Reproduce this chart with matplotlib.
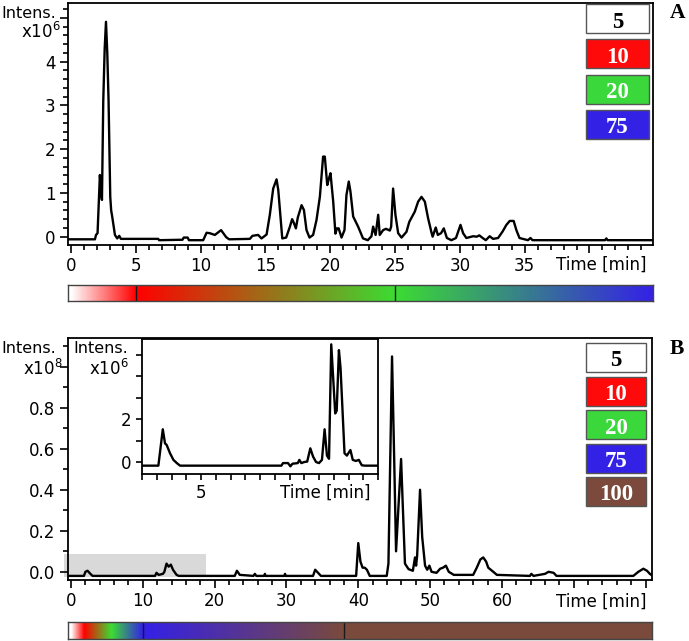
import numpy as np
import matplotlib
matplotlib.use('Agg')
import matplotlib.pyplot as plt
from matplotlib.ticker import MultipleLocator, FuncFormatter
from matplotlib.colors import to_rgb
from matplotlib.patches import Rectangle

# ---------------- data ----------------
timeA = [-0.23, 1.85, 1.93, 2.05, 2.15, 2.23, 2.31, 2.39, 2.49, 2.60, 2.70, 2.80, 2.90, 3.03, 3.1, 3.18, 3.39, 3.57,
         3.72, 3.85, 6.73, 6.8, 8.6, 8.7, 9.0, 9.1, 10.2, 10.46, 10.7, 11.1, 11.58, 11.97, 12.2, 13.8,
         14.0, 14.44, 14.7, 15.09, 15.34, 15.6, 15.86, 15.99, 16.12, 16.3, 16.6, 16.89, 17.06, 17.2,
         17.35, 17.5, 17.79, 17.97, 18.17, 18.4, 18.68, 18.94, 19.2, 19.45, 19.58, 19.77, 19.9, 20.02,
         20.23, 20.4, 20.52, 20.65, 20.87, 21.1, 21.25, 21.43, 21.56, 21.77, 22.15, 22.53, 22.9, 23.18,
         23.31, 23.5, 23.7, 23.82, 24.08, 24.3, 24.6, 24.7, 24.85, 25.03, 25.24, 25.5, 25.88, 26.1,
         26.52, 26.78, 27.04, 27.3, 27.55, 27.8, 27.9, 28.14, 28.3, 28.55, 28.76, 29.0, 29.35, 29.7,
         30.05, 30.25, 30.5, 31.02, 31.3, 31.5, 31.76, 32.0, 32.3, 32.56, 32.95, 33.3, 33.59, 33.85,
         34.15, 34.36, 34.6, 35.25, 35.45, 35.6, 41.2, 41.3, 41.4, 44.9]
intensA = [-0.06, -0.06, 0.04, 0.08, 0.8, 1.41, 1.0, 0.84, 3.1, 4.3, 4.91, 4.2, 3.1, 0.91, 0.6, 0.46, 0.04, -0.04,
           0.02, -0.05, -0.05, -0.08, -0.07, -0.02, -0.02, -0.08, -0.08, 0.09, 0.08, 0.04, 0.15, -0.01, -0.06, -0.05,
           0.02, 0.04, -0.04, 0.05, 0.5, 1.1, 1.31, 1.07, 0.61, -0.04, -0.02, 0.23, 0.4, 0.31,
           0.19, 0.44, 0.72, 0.61, 0.15, -0.02, 0.04, 0.38, 0.91, 1.83, 1.83, 1.18, 1.33, 1.45,
           0.8, 0.07, 0.19, 0.19, -0.02, 0.15, 0.95, 1.26, 1.03, 0.46, 0.23, -0.04, -0.08, 0.01,
           0.23, 0.04, 0.5, 0.04, 0.15, 0.18, 0.14, 0.23, 1.1, 0.5, 0.08, -0.02, 0.11, 0.34,
           0.57, 0.8, 0.91, 0.8, 0.42, 0.11, 0.0, 0.21, 0.04, 0.08, 0.19, -0.03, -0.08, -0.03,
           0.27, 0.08, -0.03, 0.01, 0.0, 0.03, -0.03, -0.08, 0.01, -0.05, -0.03, 0.12, 0.27, 0.36,
           0.36, 0.15, -0.03, -0.08, -0.03, -0.08, -0.08, -0.04, -0.08, -0.08]

timeB = [-0.4, 1.8, 2.0, 2.3, 2.7, 3.0, 11.7, 11.9, 12.2, 12.8, 13.0, 13.3, 13.6, 13.9, 14.2, 14.7, 15.0,
         22.8, 23.1, 23.5, 25.4, 25.6, 25.8, 26.9, 27.0, 27.1, 29.7, 29.8, 29.9, 33.7, 34.0, 34.4, 34.8,
         39.7, 40.0, 40.3, 40.6, 40.9, 41.2, 41.6, 43.96, 44.2, 44.7, 45.0, 45.26, 45.6, 45.96, 46.2,
         46.5, 47.0, 47.6, 47.9, 48.05, 48.2, 48.6, 48.9, 49.3, 49.6, 49.9, 50.2, 50.9, 51.4, 51.8,
         52.2, 52.6, 53.3, 56.0, 56.5, 57.0, 57.4, 57.8, 58.1, 58.8, 59.3, 63.9, 64.1, 64.4, 66.0,
         66.5, 67.2, 67.6, 78.3, 79.0, 79.7, 80.2, 80.6, 81.0]
intensB = [-0.02, -0.02, 0.0, 0.005, -0.01, -0.02, -0.02, -0.005, -0.015, -0.01, 0.0, 0.04, 0.025, 0.035, 0.01, -0.015, -0.02,
           -0.02, 0.005, -0.015, -0.02, -0.01, -0.02, -0.02, -0.01, -0.02, -0.02, -0.01, -0.02, -0.02, 0.01, -0.005, -0.02,
           -0.02, 0.14, 0.05, 0.02, 0.02, 0.01, -0.02, -0.02, 0.04, 1.05, 0.55, 0.10, 0.32, 0.55, 0.32,
           0.04, 0.013, 0.005, 0.07, 0.03, 0.08, 0.40, 0.17, 0.03, 0.01, 0.03, 0.0, -0.005, 0.015, 0.02,
           0.03, 0.0, -0.015, -0.015, 0.02, 0.06, 0.07, 0.05, 0.02, 0.0, -0.015, -0.02, -0.01, -0.02, -0.01,
           0.0, -0.005, -0.02, -0.02, 0.0, 0.015, 0.005, -0.01, -0.02]

timeInset = [1.0, 2.11, 2.41, 2.56, 2.67, 2.9, 3.13, 3.36, 3.58, 10.45, 10.56, 10.9, 11.06, 11.2, 11.56,
             11.67, 11.8, 12.0, 12.2, 12.41, 12.6, 12.8, 13.0, 13.2, 13.38, 13.54, 13.68, 13.83, 14.1,
             14.2, 14.35, 14.46, 14.73, 14.89, 15.13, 15.29, 15.5, 15.7, 15.9, 16.1, 17.0]
intensInset = [-0.17, -0.17, 1.53, 0.87, 0.80, 0.41, 0.1, -0.05, -0.17, -0.17, -0.05, -0.05, -0.2, -0.08, -0.05,
               0.1, -0.05, 0.0, 0.02, 0.64, 0.25, 0.0, -0.05, 0.1, 1.53, 0.3, 0.15, 5.5, 2.27,
               2.4, 5.23, 4.4, 0.41, 0.3, 0.56, 0.1, 0.05, 0.1, -0.15, -0.17, -0.17]

legendA_labels = ['5', '10', '20', '75']
legendA_colors = ['#FFFFFF', '#FF0A0A', '#3AD83A', '#3322E6']
legendB_labels = ['5', '10', '20', '75', '100']
legendB_colors = ['#FFFFFF', '#FF0A0A', '#3AD83A', '#3322E6', '#7B4A3C']

gradA_times = [0, 5, 25, 45]
gradA_colors = ['#FFFFFF', '#FF0000', '#3CDC32', '#3420E8']
gradA_marks = [5, 25]
gradB_times = [0, 1.8, 5.6, 10, 38, 81]
gradB_colors = ['#FFFFFF', '#FF0000', '#3CDC32', '#3420E8', '#7A4A3C', '#7A4A3C']
gradB_marks = [10, 38]

# ---------------- figure ----------------
W, H = 689, 641
plt.rcParams['font.family'] = ['DejaVu Sans']
plt.rcParams['mathtext.fontset'] = 'dejavusans'
fig = plt.figure(figsize=(W / 100, H / 100), dpi=100)
FS = 12
LW = 1.7


def px_rect(l, t, r, b):
    return [l / W, 1 - b / H, (r - l) / W, (b - t) / H]


def ftext(x, y, s, **kw):
    kw.setdefault('fontsize', FS)
    return fig.text(x / W, 1 - y / H, s, **kw)


def style_axes(ax, major=6, minor=3.5):
    for s in ax.spines.values():
        s.set_linewidth(1.3)
        s.set_color('black')
    ax.tick_params(which='both', direction='out', width=1.2, colors='black',
                   labelsize=FS, top=False, right=False)
    ax.tick_params(which='major', length=major, pad=3)
    ax.tick_params(which='minor', length=minor)


def only(vals, fmt='%g'):
    def f(v, pos):
        for a in vals:
            if abs(v - a) < 1e-6:
                return fmt % a
        return ''
    return FuncFormatter(f)


def gradient_bar(rect, xlim, times, colors, marks):
    ax = fig.add_axes(rect)
    xs = np.linspace(xlim[0], xlim[1], 1000)
    rgb = np.array([to_rgb(c) for c in colors])
    img = np.stack([np.interp(xs, times, rgb[:, k]) for k in range(3)], axis=-1)
    ax.imshow(img[None, :, :], extent=[xlim[0], xlim[1], 0, 1], aspect='auto',
              interpolation='bilinear')
    for m in marks:
        ax.axvline(m, color='#1a1a1a', lw=1.0)
    ax.set_xlim(xlim)
    ax.set_ylim(0, 1)
    ax.set_xticks([])
    ax.set_yticks([])
    for s in ax.spines.values():
        s.set_color('#444444')
        s.set_linewidth(1.0)
    return ax


def legend_boxes(labels, colors, left, right, top, step, height):
    for i, (lab, col) in enumerate(zip(labels, colors)):
        t = top + i * step
        fig.patches.append(Rectangle((left / W, 1 - (t + height) / H), (right - left) / W, height / H,
                                     transform=fig.transFigure, facecolor=col,
                                     edgecolor='#555555', lw=1.0))
        tc = 'black' if col.upper() == '#FFFFFF' else 'white'
        ftext((left + right) / 2, t + height / 2 + 1, lab, ha='center', va='center_baseline',
              color=tc, fontsize=16.5, fontweight='bold', family='Liberation Serif')


# ---------------- panel A ----------------
xlimA = (-0.23, 44.9)
axA = fig.add_axes(px_rect(68, 3, 653, 245))
axA.plot(timeA, intensA, color='black', lw=LW)
axA.set_xlim(xlimA)
axA.set_ylim(-0.19, 5.34)
style_axes(axA)
axA.xaxis.set_major_locator(MultipleLocator(5))
axA.xaxis.set_minor_locator(MultipleLocator(1))
axA.xaxis.set_major_formatter(only([0, 5, 10, 15, 20, 25, 30, 35]))
axA.yaxis.set_major_locator(MultipleLocator(1))
axA.yaxis.set_minor_locator(MultipleLocator(0.2))
axA.yaxis.set_major_formatter(only([0, 1, 2, 3, 4]))
ftext(56, 13, 'Intens.', ha='right', va='center', fontsize=11.5)
ftext(61, 32, 'x10$^{6}$', ha='right', va='center')
ftext(647, 265, 'Time [min]', ha='right', va='center')
gradient_bar(px_rect(68, 285, 653, 301), xlimA, gradA_times, gradA_colors, gradA_marks)
legend_boxes(legendA_labels, legendA_colors, 586, 649, 4, 35.3, 29)
ftext(678, 13.5, 'A', ha='center', va='center', fontsize=15.5, fontweight='bold',
      family='Liberation Serif')

# ---------------- panel B ----------------
xlimB = (-0.42, 80.9)
axB = fig.add_axes(px_rect(68, 338, 652, 580))
axB.add_patch(Rectangle((-1.0, -0.026), 19.8, 0.112, facecolor='#d9d9d9', edgecolor='none',
                        zorder=0, clip_on=False))
axB.plot(timeB, intensB, color='black', lw=LW, zorder=2)
axB.set_xlim(xlimB)
axB.set_ylim(-0.04, 1.14)
style_axes(axB)
axB.xaxis.set_major_locator(MultipleLocator(10))
axB.xaxis.set_minor_locator(MultipleLocator(2))
axB.xaxis.set_major_formatter(only([0, 10, 20, 30, 40, 50, 60]))
axB.yaxis.set_major_locator(MultipleLocator(0.2))
axB.yaxis.set_minor_locator(MultipleLocator(0.1))
axB.yaxis.set_major_formatter(only([0.0, 0.2, 0.4, 0.6, 0.8], '%.1f'))
ftext(56, 348, 'Intens.', ha='right', va='center', fontsize=11.5)
ftext(63, 369, 'x10$^{8}$', ha='right', va='center')
ftext(647, 602, 'Time [min]', ha='right', va='center')
gradient_bar(px_rect(68, 622, 652, 639), xlimB, gradB_times, gradB_colors, gradB_marks)
legend_boxes(legendB_labels, legendB_colors, 586, 646, 343, 33.5, 29)
ftext(677, 349.5, 'B', ha='center', va='center', fontsize=15.5, fontweight='bold',
      family='Liberation Serif')

# ---------------- inset ----------------
axI = fig.add_axes(px_rect(142, 339, 378, 474))
axI.set_facecolor('white')
axI.plot(timeInset, intensInset, color='black', lw=LW)
axI.set_xlim(1.0, 17.0)
axI.set_ylim(-0.56, 5.75)
style_axes(axI, major=4.5, minor=4.5)
axI.xaxis.set_major_locator(MultipleLocator(1))
axI.xaxis.set_major_formatter(only([5]))
axI.yaxis.set_major_locator(MultipleLocator(1))
axI.yaxis.set_major_formatter(only([0, 2]))
ftext(128, 348, 'Intens.', ha='right', va='center', fontsize=11.5)
ftext(129, 369, 'x10$^{6}$', ha='right', va='center')
ftext(370, 493, 'Time [min]', ha='right', va='center')

fig.savefig('out.png', dpi=100)
